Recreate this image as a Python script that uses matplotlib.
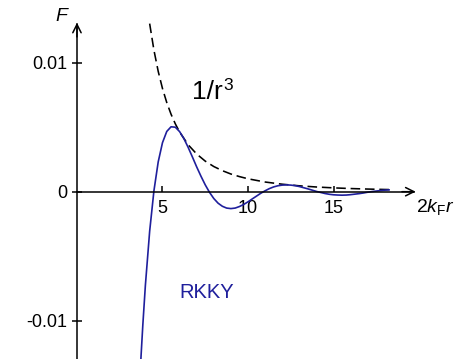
import matplotlib.pyplot as plt

plt.rcParams['font.family'] = ['Liberation Sans', 'DejaVu Sans']
plt.rcParams['mathtext.fontset'] = 'custom'
plt.rcParams['mathtext.rm'] = 'Liberation Sans'
plt.rcParams['mathtext.it'] = 'Liberation Sans:italic'

# RKKY curve (x = 2 kF r, F in units of 1e-3)
rkky_x = [3.7, 3.75, 3.85, 4.0, 4.25, 4.5, 4.75, 5.0, 5.25, 5.5, 5.75, 6.0,
          6.25, 6.5, 6.75, 7.0, 7.25, 7.5, 7.75, 8.0, 8.25, 8.5, 8.75, 9.0,
          9.25, 9.5, 9.75, 10.0, 10.25, 10.5, 10.75, 11.0, 11.25, 11.5, 11.75,
          12.0, 12.25, 12.5, 12.75, 13.0, 13.25, 13.5, 13.75, 14.0, 14.25,
          14.5, 14.75, 15.0, 15.25, 15.5, 15.75, 16.0, 16.25, 16.5, 16.75,
          17.0, 17.25, 17.5, 17.75, 18.0, 18.25]
rkky_f = [-13.92, -12.67, -10.35, -7.26, -3.07, 0.07, 2.31, 3.80, 4.67, 5.03,
          5.00, 4.66, 4.12, 3.44, 2.69, 1.92, 1.20, 0.53, -0.05, -0.53, -0.89,
          -1.13, -1.27, -1.31, -1.27, -1.15, -0.99, -0.785, -0.56, -0.34,
          -0.12, 0.07, 0.24, 0.37, 0.46, 0.51, 0.53, 0.51, 0.47, 0.40, 0.31,
          0.22, 0.12, 0.02, -0.06, -0.14, -0.20, -0.24, -0.26, -0.27, -0.26,
          -0.23, -0.19, -0.15, -0.10, -0.04, 0.01, 0.05, 0.09, 0.12, 0.14]

# 1/r^3 envelope (same units)
env_x = [4.25, 4.5, 4.75, 5.0, 5.25, 5.5, 5.75, 6.0, 6.5, 7.0, 7.5, 8.0,
         8.5, 9.0, 9.5, 10.0, 11.0, 12.0, 13.0, 14.0, 15.0, 16.0, 17.0,
         18.0, 18.25]
env_f = [13.03, 10.97, 9.33, 8.00, 6.91, 6.01, 5.26, 4.63, 3.64, 2.92, 2.37,
         1.95, 1.63, 1.37, 1.17, 1.00, 0.75, 0.58, 0.455, 0.364, 0.296,
         0.244, 0.204, 0.171, 0.165]

xticks = [5, 10, 15]
yticks = [-0.01, 0, 0.01]
ytick_labels = ['-0.01', '0', '0.01']

blue = '#1f1f9c'

fig = plt.figure(figsize=(4.57, 3.59), dpi=100)
ax = fig.add_axes([0, 0, 1, 1])
ax.set_xlim(-4.50, 22.22)
ax.set_ylim(-0.01297, 0.01486)

ax.plot(env_x, [v * 1e-3 for v in env_f], color='black', lw=1.15,
        dashes=(6, 3))
ax.plot(rkky_x, [v * 1e-3 for v in rkky_f], color=blue, lw=1.2)

# axes through the origin
for s in ['top', 'right']:
    ax.spines[s].set_visible(False)
ax.spines['left'].set_position(('data', 0))
ax.spines['bottom'].set_position(('data', 0))
ax.spines['left'].set_bounds(-0.013, 0.0130)
ax.spines['bottom'].set_bounds(0, 19.7)
ax.spines['left'].set_linewidth(1.1)
ax.spines['bottom'].set_linewidth(1.1)
ax.annotate('', xy=(19.8, 0), xytext=(19.0, 0),
            arrowprops=dict(arrowstyle='->', lw=1.1, color='black',
                            shrinkA=0, shrinkB=0, mutation_scale=15))
ax.annotate('', xy=(0, 0.0131), xytext=(0, 0.0120),
            arrowprops=dict(arrowstyle='->', lw=1.1, color='black',
                            shrinkA=0, shrinkB=0, mutation_scale=15))

ax.set_xticks(xticks)
ax.set_xticklabels([str(t) for t in xticks])
ax.set_yticks(yticks)
ax.set_yticklabels(ytick_labels)
ax.tick_params(axis='x', direction='in', length=4.5, width=1.1, pad=6,
               labelsize=13)
ax.tick_params(axis='y', direction='inout', length=7.5, width=1.1, pad=3,
               labelsize=13)

ax.text(-0.9, 0.01355, 'F', fontsize=14, style='italic', ha='center',
        va='center')
ax.text(19.8, -0.0012, r'$2k_\mathrm{F}r$', fontsize=14, ha='left',
        va='center')
t = ax.text(6.7, 0.0077, '1/r', fontsize=19, ha='left', va='center')
ax.annotate('3', xy=(1, 1), xycoords=t, xytext=(0.5, 1.5),
            textcoords='offset points', fontsize=12.5, ha='left', va='top')
ax.text(6.0, -0.0078, 'RKKY', fontsize=14.5, color=blue, ha='left',
        va='center')

fig.savefig('out.png', dpi=100)
